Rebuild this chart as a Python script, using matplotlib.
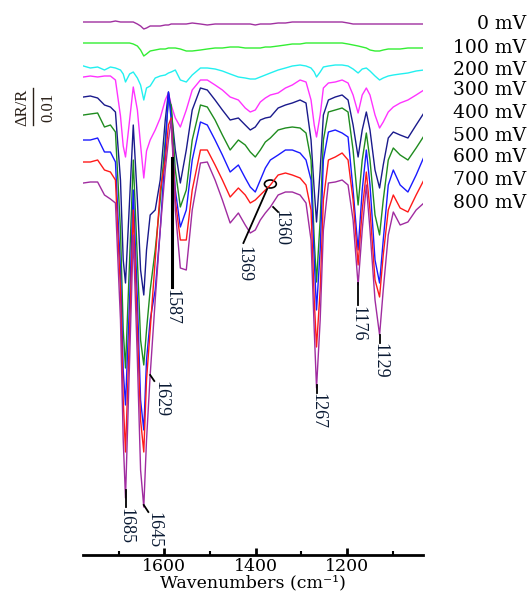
import numpy as np
import matplotlib
matplotlib.use('Agg')
from matplotlib import pyplot as plt
from matplotlib import transforms
from matplotlib.patches import Ellipse
from matplotlib.lines import Line2D

# wavenumber grid, cm-1
wn = [1777, 1762, 1746, 1731, 1718, 1707, 1696, 1690, 1685, 1676,
      1668, 1659, 1652, 1645, 1639, 1631, 1620, 1609, 1598, 1591,
      1585, 1576, 1565, 1552, 1539, 1521, 1506, 1489, 1473, 1456,
      1438, 1423, 1412, 1401, 1390, 1379, 1368, 1351, 1335, 1320,
      1303, 1290, 1279, 1272, 1267, 1259, 1252, 1241, 1226, 1211,
      1198, 1187, 1176, 1167, 1158, 1150, 1139, 1129, 1121, 1110,
      1099, 1084, 1067, 1049, 1032]

potentials = ['0 mV', '100 mV', '200 mV', '300 mV', '400 mV',
              '500 mV', '600 mV', '700 mV', '800 mV']
colors = ['#a030a0', '#33ee33', '#22f0f0', '#ff33ff', '#1a1a8c',
          '#1f8c1f', '#1a1aff', '#ff1a1a', '#a02ca0']
# vertical stacking of the traces (a.u., downwards)
offsets = [22, 43, 66, 76, 97, 115, 140, 162, 182]

# band depth below each trace baseline (a.u., positive = down)
d0 = [0, 0, 0, 0, 0, -1, 0, 0, 0, 0,
      0, 2, 4, 7, 6, 4, 4, 4, 3, 3,
      2, 2, 2, 2, 1, 2, 3, 2, 2, 2,
      2, 2, 2, 3, 2, 2, 2, 1, 1, 0,
      0, 0, 0, 0, 0, 0, 0, 0, 0, 0,
      1, 2, 2, 2, 2, 2, 2, 2, 2, 2,
      2, 2, 2, 2, 2]
d100 = [0, 0, 0, 0, 0, 0, 0, 0, 0, 0,
        1, 3, 7, 13, 11, 8, 7, 6, 6, 5,
        5, 5, 6, 8, 8, 7, 6, 5, 5, 4,
        4, 5, 5, 5, 5, 4, 4, 3, 2, 1,
        1, 0, 0, 0, 0, 0, 0, 0, 0, 0,
        1, 2, 3, 4, 5, 7, 8, 8, 7, 6,
        6, 6, 5, 5, 5]
d200 = [0, 2, 1, 4, 1, 2, 4, 8, 16, 8,
        6, 12, 19, 34, 22, 20, 12, 10, 9, 7,
        6, 4, 14, 16, 9, 2, 2, 3, 5, 8,
        11, 12, 13, 13, 11, 9, 7, 4, 2, 0,
        -1, 0, 2, 6, 11, 6, 1, 0, -1, -1,
        0, 3, 7, 3, 2, 5, 10, 14, 12, 10,
        9, 8, 7, 5, 4]
d300 = [1, 0, 1, 0, 0, 4, 40, 70, 81, 44,
        11, 34, 69, 102, 75, 64, 54, 42, 24, 17,
        29, 42, 51, 34, 14, 4, 4, 9, 14, 21,
        24, 32, 36, 34, 26, 22, 19, 17, 12, 9,
        4, 6, 24, 49, 61, 39, 12, 7, 6, 4,
        7, 19, 37, 19, 12, 19, 39, 52, 46, 36,
        31, 27, 24, 19, 14]
d400 = [0, -1, 1, 8, 10, 15, 83, 163, 186, 103,
        28, 103, 173, 198, 153, 118, 113, 83, 23, -5,
        13, 53, 86, 53, 13, -9, -7, 3, 13, 23,
        21, 28, 33, 30, 23, 21, 20, 11, 8, 6,
        3, 6, 43, 93, 125, 73, 18, 3, 0, -2,
        3, 28, 60, 33, 15, 33, 73, 91, 68, 41,
        35, 38, 41, 28, 16]
d500 = [0, -1, -2, 12, 10, 17, 115, 215, 253, 145,
        45, 145, 225, 250, 215, 175, 135, 85, 25, -15,
        -10, 55, 92, 75, 25, -10, -8, 5, 20, 35,
        25, 30, 37, 42, 35, 27, 23, 15, 13, 12,
        13, 18, 45, 125, 167, 105, 25, -3, -5, -7,
        -3, 35, 90, 45, 18, 45, 100, 120, 85, 45,
        33, 40, 45, 33, 21]
d600 = [0, 0, -2, 12, 12, 22, 130, 230, 265, 160,
        50, 160, 260, 290, 220, 180, 150, 90, 10, -48,
        -20, 50, 87, 70, 20, -18, -15, 0, 15, 32,
        25, 38, 47, 52, 40, 28, 20, 15, 10, 10,
        13, 20, 40, 120, 170, 110, 20, -8, -10, -7,
        -3, 50, 110, 50, 10, 45, 120, 143, 100, 45,
        30, 45, 52, 35, 17]
d700 = [0, 0, -2, 8, 10, 18, 128, 238, 290, 168,
        48, 168, 258, 290, 218, 168, 98, 28, -2, -37,
        -44, 38, 78, 78, 28, -12, -12, 3, 18, 35,
        26, 33, 41, 38, 33, 28, 23, 13, 11, 13,
        16, 23, 48, 138, 185, 128, 38, -2, -5, -9,
        -2, 38, 103, 48, 10, 48, 118, 135, 93, 48,
        33, 46, 50, 33, 18]
d800 = [1, 0, 0, 13, 17, 21, 138, 258, 316, 178,
        53, 178, 288, 325, 258, 193, 118, 48, -12, -42,
        -62, 28, 86, 88, 28, -19, -20, -2, 18, 41,
        31, 43, 51, 48, 38, 31, 25, 13, 10, 10,
        13, 21, 58, 148, 206, 138, 48, 1, 0, -2,
        3, 38, 103, 48, 3, 48, 118, 153, 108, 53,
        30, 43, 40, 28, 21]
depths = [d0, d100, d200, d300, d400, d500, d600, d700, d800]

# peak labels: text, line start (wn, y), line end (wn, y)
peak_text = ['1685', '1645', '1629', '1587', '1369', '1360', '1267', '1176', '1129']
line_x0 = [1685, 1645, 1631, 1583, 1375, 1362, 1267, 1176, 1129]
line_y0 = [490, 505, 375, 158, 189, 207, 385, 283, 335]
line_x1 = [1685, 1635, 1622, 1583, 1427, 1351, 1267, 1176, 1129]
line_y1 = [507, 512, 381, 287, 243, 212, 393, 305, 343]
text_x = [1685, 1622, 1607, 1583, 1425, 1344, 1265, 1176, 1128]
text_y = [508, 512, 381, 289, 246, 210, 393, 306, 343]

fig = plt.figure(figsize=(5.27, 5.94), dpi=100)
ax = fig.add_axes([83 / 527, 39 / 594, 340 / 527, 555 / 594])

for name, c, off, d in zip(potentials, colors, offsets, depths):
    y = -(off + np.array(d))
    ax.plot(wn, y, color=c, lw=1.0)

# potential labels at the right end of each trace
trans = transforms.blended_transform_factory(fig.transFigure, ax.transData)
for name, off, d in zip(potentials, offsets, depths):
    ax.text(0.998, -(off + d[-1]), name, transform=trans, ha='right', va='center',
            family='DejaVu Serif', fontsize=13.5, color='black')

for i in range(len(peak_text)):
    lw = 2.2 if peak_text[i] == '1587' else 1.3
    ax.plot([line_x0[i], line_x1[i]], [-line_y0[i], -line_y1[i]], color='black', lw=lw)
    ax.text(text_x[i], -text_y[i], peak_text[i], rotation=-90, ha='center', va='top',
            family='Liberation Serif', fontsize=13, color='#0a1a33')
ax.add_patch(Ellipse((1368, -184), 26, 8, fill=False, color='black', lw=1.2))

ax.set_xlim(1778, 1034)
ax.set_ylim(-555, 0)
for s in ['top', 'left', 'right']:
    ax.spines[s].set_visible(False)
ax.spines['bottom'].set_linewidth(2)
ax.set_yticks([])
ax.set_xticks([1600, 1400, 1200])
ax.set_xticks([1700, 1500, 1300, 1100], minor=True)
ax.tick_params(axis='x', which='major', direction='in', length=5, width=2, pad=2)
ax.tick_params(axis='x', which='minor', direction='in', length=3, width=1.5)
for lab in ax.get_xticklabels():
    lab.set_family('DejaVu Serif')
    lab.set_fontsize(12.5)
ax.set_xlabel('Wavenumbers (cm⁻¹)', family='DejaVu Serif', fontsize=12.5, labelpad=0)
ax.patch.set_alpha(0)

# intensity scale on the left
fig.text(22 / 527, 1 - 107 / 594, 'ΔR/R', rotation=90, ha='center', va='center',
         family='Liberation Serif', fontsize=12, color='#2a2018')
fig.text(48 / 527, 1 - 107 / 594, '0.01', rotation=90, ha='center', va='center',
         family='Liberation Serif', fontsize=12, color='#2a2018')
fig.add_artist(Line2D([33 / 527, 33 / 527], [1 - 88 / 594, 1 - 125 / 594],
                      transform=fig.transFigure, color='#2a2018', lw=1.0))

fig.savefig('out.png', dpi=100)
